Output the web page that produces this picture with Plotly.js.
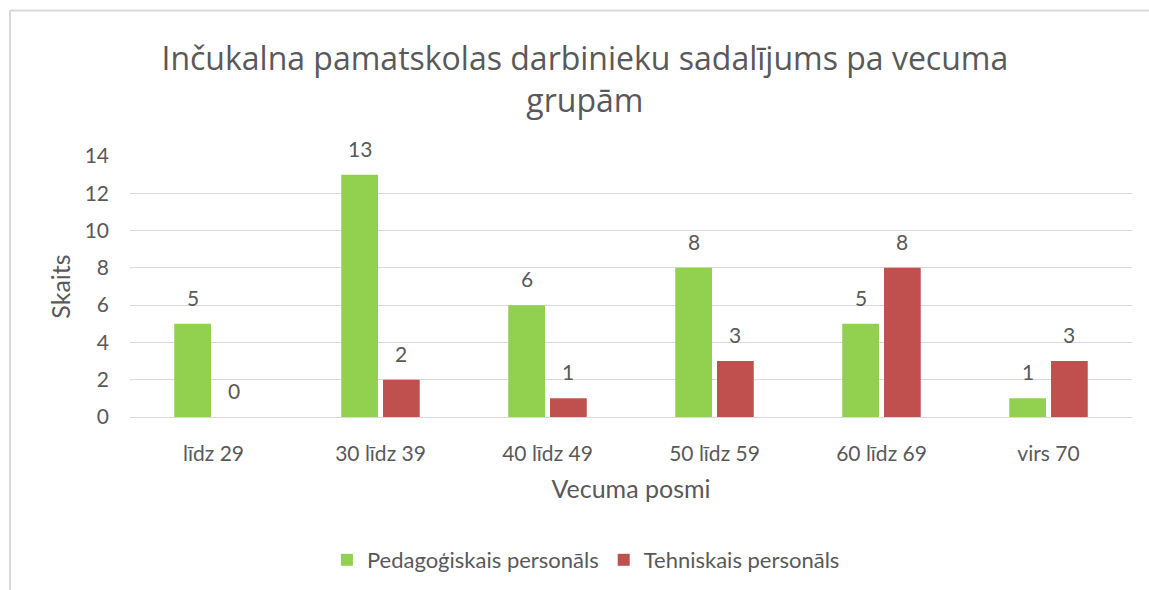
<!DOCTYPE html>
<html>
<head>
<meta charset="utf-8">
<script src="https://cdn.plot.ly/plotly-3.0.1.min.js"></script>
<style>
html,body{margin:0;padding:0;background:#fff;}
#chart{width:1149px;height:590px;}
</style>
</head>
<body>
<div id="chart"></div>
<script>
const categories = ["līdz 29", "30 līdz 39", "40 līdz 49", "50 līdz 59", "60 līdz 69", "virs 70"];
const seriesNames = ["Pedagoģiskais personāls", "Tehniskais personāls"];
const pedagogiskais = [5, 13, 6, 8, 5, 1];
const tehniskais = [0, 2, 1, 3, 8, 3];
const yTicks = [0, 2, 4, 6, 8, 10, 12, 14];
const chartTitle = "Inčukalna pamatskolas darbinieku sadalījums pa vecuma<br>grupām";
const xTitle = "Vecuma posmi";
const yTitle = "Skaits";

const txtColor = "#595959";
const baseFont = "Lato, 'Open Sans', sans-serif";

const BARGAP = 0.5;
const slot = (1 - BARGAP) / 2;

function barTrace(name, vals, color) {
  return {
    type: "bar",
    name: name,
    x: categories,
    y: vals,
    marker: {color: color, line: {width: 0}},
    hoverinfo: "x+y+name"
  };
}

const series = [
  {name: seriesNames[0], vals: pedagogiskais, color: "#92D050", offset: -slot / 2},
  {name: seriesNames[1], vals: tehniskais, color: "#C0504D", offset: slot / 2}
];

const data = series.map(s => barTrace(s.name, s.vals, s.color));

const annotations = [];
series.forEach(s => {
  s.vals.forEach((v, i) => {
    annotations.push({
      xref: "x", yref: "y",
      x: i + s.offset, y: v,
      text: String(v),
      showarrow: false,
      xanchor: "center", yanchor: "bottom",
      yshift: 12,
      font: {family: baseFont, size: 21, color: txtColor}
    });
  });
});

const layout = {
  width: 1149,
  height: 590,
  margin: {l: 130, r: 17, t: 156, b: 173},
  paper_bgcolor: "#ffffff",
  plot_bgcolor: "#ffffff",
  font: {family: baseFont, color: txtColor, size: 19},
  title: {
    text: chartTitle,
    font: {family: "'Open Sans', sans-serif", size: 32, color: txtColor},
    x: 0.509, xref: "container", xanchor: "center",
    y: 1 - 70/590, yref: "container", yanchor: "top"
  },
  barmode: "group",
  bargap: BARGAP,
  bargroupgap: 0.12,
  showlegend: true,
  legend: {
    orientation: "h",
    x: 0.455, xanchor: "center",
    yref: "container",
    y: 1 - 560/590, yanchor: "middle",
    font: {family: baseFont, size: 22, color: txtColor},
    itemwidth: 30,
    traceorder: "normal"
  },
  xaxis: {
    type: "category",
    automargin: false,
    range: [-0.5, categories.length - 0.5],
    showgrid: false,
    showline: true,
    linecolor: "#d9d9d9",
    linewidth: 1,
    ticks: "",
    ticklabelstandoff: 18,
    tickfont: {family: baseFont, size: 21, color: txtColor},
    title: {text: xTitle, font: {family: baseFont, size: 25, color: txtColor}, standoff: 16},
    zeroline: false
  },
  yaxis: {
    automargin: false,
    range: [0, 14],
    tickvals: yTicks,
    ticktext: yTicks.map(String),
    showgrid: true,
    gridcolor: "#d9d9d9",
    gridwidth: 1,
    zeroline: false,
    showline: false,
    ticks: "",
    ticklabelstandoff: 20,
    tickfont: {family: baseFont, size: 21, color: txtColor},
    title: {text: yTitle, font: {family: baseFont, size: 25, color: txtColor}, standoff: 6},
    fixedrange: true
  },
  annotations: annotations,
  shapes: [
    {type: "line", xref: "paper", yref: "paper",
     x0: (10 - 130) / 1002, x1: 1.05, y0: (417 - 10.5) / 261, y1: (417 - 10.5) / 261,
     line: {color: "#d9d9d9", width: 2}},
    {type: "line", xref: "paper", yref: "paper",
     x0: (10 - 130) / 1002, x1: (10 - 130) / 1002, y0: (417 - 10.5) / 261, y1: -0.8,
     line: {color: "#d9d9d9", width: 2}}
  ]
};

Plotly.newPlot("chart", data, layout, {displayModeBar: false, staticPlot: true});
</script>
</body>
</html>
